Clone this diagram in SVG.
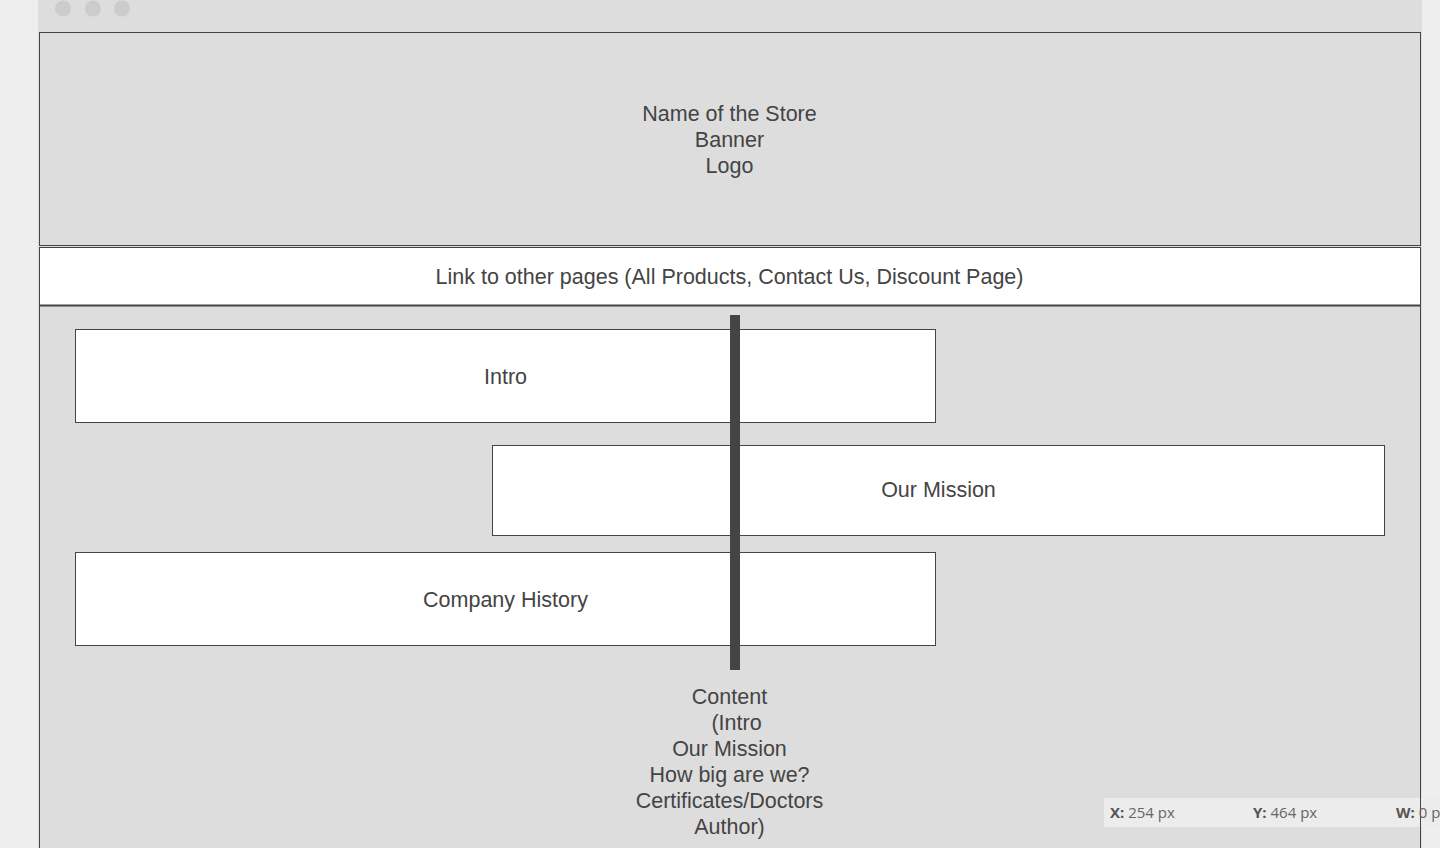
<svg xmlns="http://www.w3.org/2000/svg" width="1440" height="848" viewBox="0 0 1440 848">
<style>
.lbl{font-family:Arial,"Liberation Sans",Helvetica,sans-serif;font-size:21.5px;fill:#444;text-anchor:middle}
.box{fill:#fff;stroke:#444;stroke-width:1}
.st{font-family:"Open Sans","DejaVu Sans",sans-serif;font-size:15px;fill:#666}
.stb{font-weight:bold}
.dot{fill:#cccccc}
</style>
<rect x="0" y="0" width="1440" height="848" fill="#eeeeee"/>
<rect x="38" y="0" width="1384" height="848" fill="#dddddd"/>
<circle class="dot" cx="63" cy="8.5" r="8"/>
<circle class="dot" cx="93" cy="8.5" r="8"/>
<circle class="dot" cx="122" cy="8.5" r="8"/>
<g id="header">
<rect x="39.5" y="32.5" width="1381" height="213" fill="#dddddd" stroke="#444" stroke-width="1"/>
<text class="lbl" x="729.5" y="121">Name of the Store</text>
<text class="lbl" x="729.5" y="147">Banner</text>
<text class="lbl" x="729.5" y="173">Logo</text>
</g>
<g id="nav">
<rect x="39.5" y="247.5" width="1381" height="58" fill="#fff" stroke="#444" stroke-width="1"/>
<line x1="39" y1="305.5" x2="1421" y2="305.5" stroke="#444" stroke-width="2"/>
<text class="lbl" x="729.5" y="284">Link to other pages (All Products, Contact Us, Discount Page)</text>
</g>
<g id="content">
<path d="M39.5 306 V848 M1420.5 306 V848" stroke="#444" stroke-width="1" fill="none"/>
<text class="lbl" x="729.5" y="704">Content</text>
<text class="lbl" x="736.5" y="730">(Intro</text>
<text class="lbl" x="729.5" y="756">Our Mission</text>
<text class="lbl" x="729.5" y="782">How big are we?</text>
<text class="lbl" x="729.5" y="808">Certificates/Doctors</text>
<text class="lbl" x="729.5" y="834">Author)</text>
</g>
<g id="intro">
<rect class="box" x="75.5" y="329.5" width="860" height="93"/>
<text class="lbl" x="505.5" y="384">Intro</text>
</g>
<g id="mission">
<rect class="box" x="492.5" y="445.5" width="892" height="90"/>
<text class="lbl" x="938.5" y="497">Our Mission</text>
</g>
<g id="history">
<rect class="box" x="75.5" y="552.5" width="860" height="93"/>
<text class="lbl" x="505.5" y="607">Company History</text>
</g>
<g id="connectors">
<rect x="730" y="315" width="10" height="355" fill="#444"/>
</g>
<g id="statusbar">
<rect x="1104" y="798" width="336" height="29" fill="#ececec"/>
<line x1="1420.5" y1="780" x2="1420.5" y2="848" stroke="#444" stroke-width="1"/>
<text class="st" x="1110" y="818"><tspan class="stb" fill="#555">X:</tspan> 254 px</text>
<text class="st" x="1253" y="818"><tspan class="stb" fill="#555">Y:</tspan> 464 px</text>
<text class="st" x="1396" y="818"><tspan class="stb" fill="#555">W:</tspan> 0 p</text>
</g>
</svg>
